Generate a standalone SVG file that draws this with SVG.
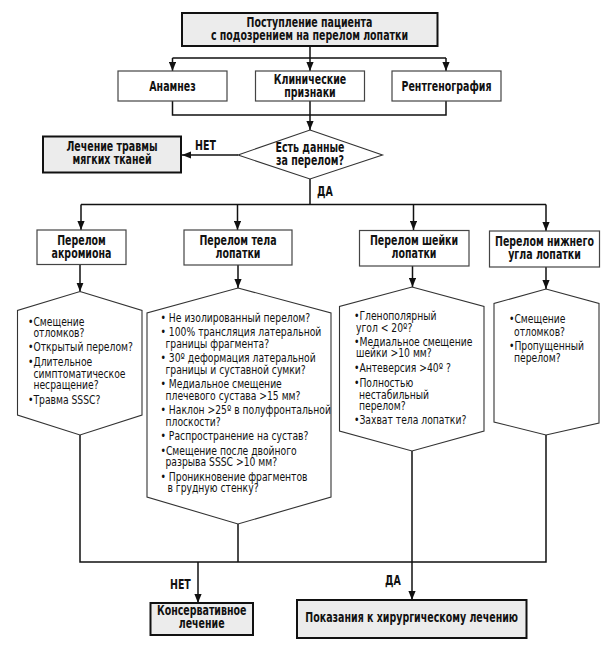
<svg xmlns="http://www.w3.org/2000/svg" width="614" height="646" viewBox="0 0 614 646">
<style>
.b{font-family:"DejaVu Sans Condensed","DejaVu Sans",sans-serif;font-weight:bold;font-size:13.5px;text-anchor:middle;fill:#111}
.t{font-family:"DejaVu Sans Condensed","DejaVu Sans",sans-serif;font-size:12.5px;fill:#111}
.lbl{font-family:"DejaVu Sans Condensed","DejaVu Sans",sans-serif;font-weight:bold;font-size:13.5px;fill:#111}
.key{fill:#ececec;stroke:#111;stroke-width:2}
.box{fill:#fff;stroke:#444;stroke-width:1.2}
.hex{fill:#fff;stroke:#333;stroke-width:1.1}
.ln{fill:none;stroke:#111;stroke-width:1.5}
.ar{fill:none;stroke:#111;stroke-width:1.5;marker-end:url(#ah)}
</style>
<defs>
<marker id="ah" viewBox="0 0 10 8" refX="10" refY="4" markerWidth="9" markerHeight="7.5" orient="auto" markerUnits="userSpaceOnUse"><path d="M0,0 L10,4 L0,8 z" fill="#111"/></marker>
</defs>
<rect width="614" height="646" fill="#fff"/>

<g id="connectors">
<path class="ln" d="M310,46 V58 M172.5,58 H446"/>
<path class="ar" d="M172.5,58 V71"/>
<path class="ar" d="M310,58 V71"/>
<path class="ar" d="M446,58 V71"/>
<path class="ln" d="M172.5,101 V115 H446 V101"/>
<path class="ar" d="M310,101 V130"/>
<path class="ar" d="M238,155 H182"/>
<path class="ln" d="M310,179 V204.5 M81,204.5 H546"/>
<path class="ar" d="M81,204.5 V230"/>
<path class="ar" d="M237.5,204.5 V230"/>
<path class="ar" d="M413.5,204.5 V230"/>
<path class="ar" d="M546,204.5 V231"/>
<path class="ar" d="M80,264 V291.5"/>
<path class="ar" d="M238,265 V288"/>
<path class="ar" d="M412.5,266 V287"/>
<path class="ar" d="M546,267 V289"/>
<path class="ln" d="M80,435 V562 H546 V435 M238,524 V562"/>
<path class="ar" d="M412,451 V600"/>
<path class="ar" d="M198,562 V603"/>
</g>

<g id="n-start">
<rect class="key" x="182" y="13" width="255.5" height="33"/>
<g transform="matrix(0.78,0,0,1,68.09,0)">
<text class="b" x="309.5" y="27">Поступление пациента</text>
<text class="b" x="309.5" y="40">с подозрением на перелом лопатки</text>
</g>
</g>

<g id="n-anamnez">
<rect class="box" x="118" y="71" width="109" height="30"/>
<text class="b" x="172.5" y="91" transform="matrix(0.78,0,0,1,37.95,0)">Анамнез</text>
</g>
<g id="n-klin">
<rect class="box" x="255.5" y="71" width="109" height="30"/>
<g transform="matrix(0.78,0,0,1,68.2,0)">
<text class="b" x="310" y="84">Клинические</text>
<text class="b" x="310" y="97">признаки</text>
</g>
</g>
<g id="n-rentgen">
<rect class="box" x="392" y="71" width="109" height="30"/>
<text class="b" x="446.5" y="91" transform="matrix(0.78,0,0,1,98.23,0)">Рентгенография</text>
</g>

<g id="n-decision">
<polygon class="hex" points="310,130 382.5,155 310,179 238,155" stroke="#555"/>
<g transform="matrix(0.78,0,0,1,68.2,0)">
<text class="b" x="310" y="152">Есть данные</text>
<text class="b" x="310" y="165">за перелом?</text>
</g>
</g>

<g id="n-soft">
<rect class="key" x="43" y="136.5" width="138" height="36"/>
<g transform="matrix(0.78,0,0,1,24.64,0)">
<text class="b" x="112" y="151">Лечение травмы</text>
<text class="b" x="112" y="164">мягких тканей</text>
</g>
</g>

<g id="labels">
<text class="lbl" x="195" y="150" transform="matrix(0.78,0,0,1,42.9,0)">НЕТ</text>
<text class="lbl" x="317" y="196" transform="matrix(0.78,0,0,1,69.74,0)">ДА</text>
<text class="lbl" x="170" y="589" transform="matrix(0.78,0,0,1,37.4,0)">НЕТ</text>
<text class="lbl" x="385" y="585" transform="matrix(0.78,0,0,1,84.7,0)">ДА</text>
</g>

<g id="n-akr">
<rect class="box" x="37" y="230" width="89" height="34.5"/>
<g transform="matrix(0.78,0,0,1,17.93,0)">
<text class="b" x="81.5" y="245">Перелом</text>
<text class="b" x="81.5" y="258">акромиона</text>
</g>
</g>
<g id="n-tela">
<rect class="box" x="184" y="230" width="108" height="35"/>
<g transform="matrix(0.78,0,0,1,52.36,0)">
<text class="b" x="238" y="245">Перелом тела</text>
<text class="b" x="238" y="258">лопатки</text>
</g>
</g>
<g id="n-sheiki">
<rect class="box" x="359.5" y="230.5" width="109.5" height="35.5"/>
<g transform="matrix(0.78,0,0,1,91.08,0)">
<text class="b" x="414" y="245.5">Перелом шейки</text>
<text class="b" x="414" y="258.5">лопатки</text>
</g>
</g>
<g id="n-nizh">
<rect class="box" x="489.5" y="231" width="110" height="36"/>
<g transform="matrix(0.78,0,0,1,119.79,0)">
<text class="b" x="544.5" y="246">Перелом нижнего</text>
<text class="b" x="544.5" y="259">угла лопатки</text>
</g>
</g>

<g id="n-akr-crit">
<polygon class="hex" points="80,291.5 142,310.5 142,415 80,435 17.5,415 17.5,310.5"/>
<g transform="matrix(0.82,0,0,1,5.04,0)">
<text class="t" x="28" y="326">•Смещение</text>
<text class="t" x="34.6" y="337.5">отломков?</text>
<text class="t" x="28" y="351.5">•Открытый перелом?</text>
<text class="t" x="28" y="366.5">•Длительное</text>
<text class="t" x="34.6" y="378">симптоматическое</text>
<text class="t" x="34.6" y="389.5">несращение?</text>
<text class="t" x="28" y="404.5">•Травма SSSC?</text>
</g>
</g>

<g id="n-tela-crit">
<polygon class="hex" points="238,288 331,313 331,497 238,524 147,497 147,313"/>
<g transform="matrix(0.82,0,0,1,28.89,0)">
<text class="t" x="160.5" y="322">• Не изолированный перелом?</text>
<text class="t" x="160.5" y="336.5">• 100% трансляция латеральной</text>
<text class="t" x="166.6" y="348">границы фрагмента?</text>
<text class="t" x="160.5" y="362.5">• 30º деформация латеральной</text>
<text class="t" x="166.6" y="374">границы и суставной сумки?</text>
<text class="t" x="160.5" y="388.5">• Медиальное смещение</text>
<text class="t" x="166.6" y="400">плечевого сустава &gt;15 мм?</text>
<text class="t" x="160.5" y="414.5">• Наклон &gt;25º в полуфронтальной</text>
<text class="t" x="166.6" y="426">плоскости?</text>
<text class="t" x="160.5" y="440.5">• Распространение на сустав?</text>
<text class="t" x="160.5" y="455">•Смещение после двойного</text>
<text class="t" x="166.6" y="466.5">разрыва SSSC &gt;10 мм?</text>
<text class="t" x="160.5" y="481">• Проникновение фрагментов</text>
<text class="t" x="169" y="492.5">в грудную стенку?</text>
</g>
</g>

<g id="n-sheiki-crit">
<polygon class="hex" points="412,287 484,306.5 484,431 412,451 339.5,431 339.5,306.5"/>
<g transform="matrix(0.82,0,0,1,63.72,0)">
<text class="t" x="354" y="320.5">•Гленополярный</text>
<text class="t" x="356.4" y="332">угол &lt; 20º?</text>
<text class="t" x="354" y="346">•Медиальное смещение</text>
<text class="t" x="356.4" y="357.5">шейки &gt;10 мм?</text>
<text class="t" x="354" y="372.5">•Антеверсия &gt;40º ?</text>
<text class="t" x="354" y="387.5">•Полностью</text>
<text class="t" x="360.1" y="399">нестабильный</text>
<text class="t" x="360.1" y="410.5">перелом?</text>
<text class="t" x="354" y="424.5">•Захват тела лопатки?</text>
</g>
</g>

<g id="n-nizh-crit">
<polygon class="hex" points="546,289 599,303.5 599,423 546,435 494,422 494,303.5"/>
<g transform="matrix(0.82,0,0,1,91.62,0)">
<text class="t" x="509" y="323.5">•Смещение</text>
<text class="t" x="515.1" y="336.5">отломков?</text>
<text class="t" x="509" y="350.5">•Пропущенный</text>
<text class="t" x="515.1" y="362">перелом?</text>
</g>
</g>

<g id="n-conserv">
<rect class="key" x="150.5" y="603" width="102.5" height="32"/>
<g transform="matrix(0.78,0,0,1,44.37,0)">
<text class="b" x="201.7" y="615.5">Консервативное</text>
<text class="b" x="201.7" y="628.5">лечение</text>
</g>
</g>

<g id="n-surg">
<rect class="key" x="297" y="600" width="229.5" height="38"/>
<text class="b" x="411.7" y="622.5" transform="matrix(0.78,0,0,1,90.57,0)">Показания к хирургическому лечению</text>
</g>
</svg>
